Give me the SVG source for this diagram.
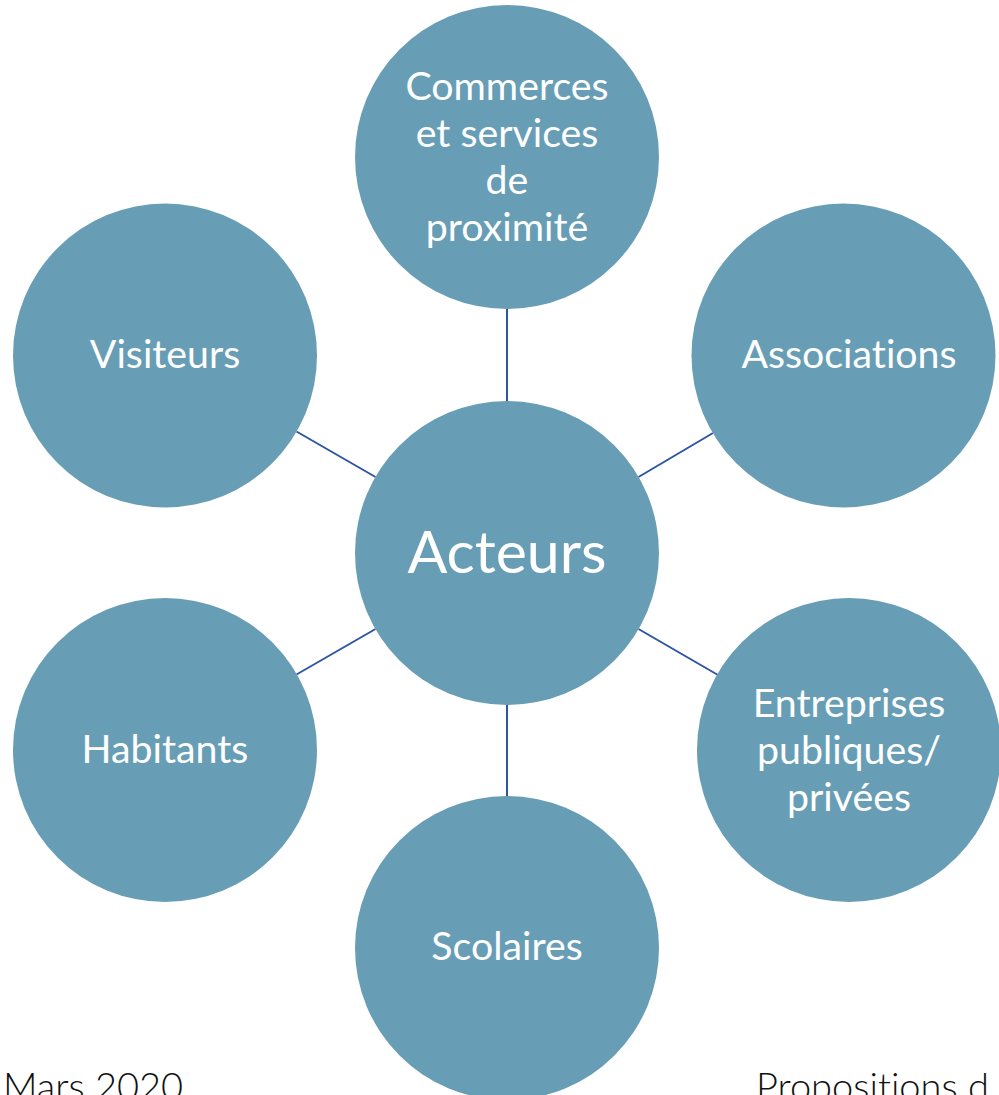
<svg xmlns="http://www.w3.org/2000/svg" width="999" height="1095" viewBox="0 0 999 1095">
<style>
.n{fill:#689EB5}
.t{fill:#fff;font-family:Lato,"Open Sans","Liberation Sans",sans-serif;font-size:39.3px;text-anchor:middle;font-variant-ligatures:none}
.big{font-size:59px}
.c{stroke:#2E55A3;stroke-width:2;fill:none}
.f{fill:#111;font-family:Lato,"Liberation Sans",sans-serif;font-weight:300;font-size:38px;font-variant-ligatures:none}
</style>
<rect width="999" height="1095" fill="#fff"/>
<g id="connectors">
<line class="c" x1="507" y1="309" x2="507" y2="401"/>
<line class="c" x1="507" y1="705" x2="507" y2="797"/>
<line class="c" x1="296.5" y1="431.5" x2="375.5" y2="477"/>
<line class="c" x1="638.5" y1="477" x2="713" y2="433"/>
<line class="c" x1="296.5" y1="674.5" x2="375.5" y2="629"/>
<line class="c" x1="638.5" y1="629" x2="718" y2="675"/>
</g>
<g id="commerces">
<circle class="n" cx="507" cy="157" r="152"/>
<text class="t" x="507" y="100">Commerces</text>
<text class="t" x="507" y="147">et services</text>
<text class="t" x="507" y="194">de</text>
<text class="t" x="507" y="241">proximité</text>
</g>
<g id="visiteurs">
<circle class="n" cx="165" cy="355.5" r="152"/>
<text class="t" x="165" y="368">Visiteurs</text>
</g>
<g id="associations">
<circle class="n" cx="843.5" cy="355.5" r="152"/>
<text class="t" x="849" y="368">Associations</text>
</g>
<g id="acteurs">
<circle class="n" cx="507" cy="553" r="152"/>
<text class="t big" x="507" y="573">Acteurs</text>
</g>
<g id="habitants">
<circle class="n" cx="165" cy="750" r="152"/>
<text class="t" x="165" y="763">Habitants</text>
</g>
<g id="entreprises">
<circle class="n" cx="849" cy="750" r="152"/>
<text class="t" x="849" y="717">Entreprises</text>
<text class="t" x="849" y="764">publiques/</text>
<text class="t" x="849" y="811">privées</text>
</g>
<g id="scolaires">
<circle class="n" cx="507" cy="948" r="152"/>
<text class="t" x="507" y="960">Scolaires</text>
</g>
<text class="f" x="3" y="1100">Mars 2020</text>
<text class="f" x="756" y="1100">Propositions d</text>
</svg>
